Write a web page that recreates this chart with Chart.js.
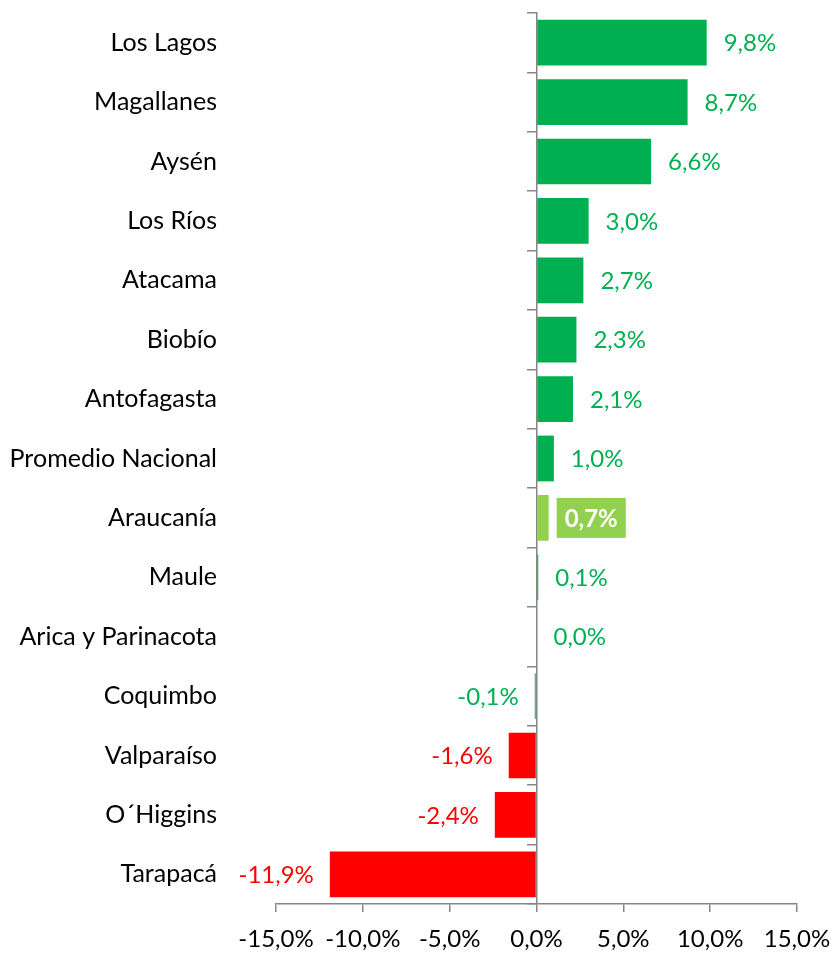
<!DOCTYPE html>
<html>
<head>
<meta charset="utf-8">
<script src="https://cdn.jsdelivr.net/npm/chart.js@4/dist/chart.umd.min.js"></script>
<style>
html,body{margin:0;padding:0;background:#fff;}
#wrap{width:834px;height:953px;position:relative;}
</style>
</head>
<body>
<div id="wrap"><canvas id="c" width="834" height="953"></canvas></div>
<script>
const categories = ["Los Lagos","Magallanes","Aysén","Los Ríos","Atacama","Biobío","Antofagasta","Promedio Nacional","Araucanía","Maule","Arica y Parinacota","Coquimbo","Valparaíso","O´Higgins","Tarapacá"];
const values = [9.8,8.7,6.6,3.0,2.7,2.3,2.1,1.0,0.7,0.1,0.0,-0.1,-1.6,-2.4,-11.9];
const xTicks = [-15,-10,-5,0,5,10,15];
const highlighted = "Araucanía";

const GREEN = "#00B050", LIGHT = "#92D050", RED = "#FF0000", AXIS = "#868686";
const FONT = "Lato, 'Liberation Sans', sans-serif";
const barColors = values.map((v,i)=> categories[i]===highlighted ? LIGHT : (v < -1 ? RED : GREEN));
const fmt = v => (v<0?"-":"") + Math.abs(v).toFixed(1).replace(".", ",") + "%";

const labelPlugin = {
  id: "vlabels",
  afterDatasetsDraw(chart){
    const ctx = chart.ctx;
    const meta = chart.getDatasetMeta(0);
    ctx.save();
    ctx.textBaseline = "middle";
    meta.data.forEach((el,i)=>{
      const v = values[i];
      const txt = fmt(v);
      const y = el.y;
      if (categories[i]===highlighted){
        ctx.font = "bold 24px " + FONT;
        const w = ctx.measureText(txt).width;
        const x0 = el.x + 8;
        ctx.fillStyle = LIGHT;
        ctx.fillRect(x0, y-20, w+16, 40);
        ctx.fillStyle = "#fff";
        ctx.textAlign = "left";
        ctx.fillText(txt, x0+8, y+1);
      } else {
        ctx.font = "24px " + FONT;
        ctx.fillStyle = barColors[i]===RED ? RED : GREEN;
        if (v < 0){ ctx.textAlign = "right"; ctx.fillText(txt, el.x - 16, y+1); }
        else { ctx.textAlign = "left"; ctx.fillText(txt, el.x + 17, y+1); }
      }
    });
    ctx.restore();
  }
};

new Chart(document.getElementById("c"), {
  type: "bar",
  data: {
    labels: categories,
    datasets: [{ data: values, backgroundColor: barColors, borderWidth: 0, barPercentage: 0.77, categoryPercentage: 1.0 }]
  },
  options: {
    indexAxis: "y",
    responsive: false,
    animation: false,
    layout: { padding: { left: 0, right: 37, top: 13, bottom: 0 } },
    plugins: { legend: { display: false }, tooltip: { enabled: false } },
    scales: {
      x: {
        min: -15, max: 15,
        afterBuildTicks(s){ s.ticks = xTicks.map(v=>({value:v})); },
        afterFit(s){ s.height = 49; s.paddingLeft = 0; s.paddingRight = 0; },
        grid: { drawOnChartArea: false, tickLength: 8, color: AXIS, lineWidth: 1.5 },
        border: { display: true, color: AXIS, width: 1.5 },
        ticks: { color: "#000", font: { family: FONT, size: 24 }, padding: 13, maxRotation: 0,
          callback: v => fmt(v) }
      },
      y: {
        position: "left",
        afterFit(s){ s.width = 276; s.paddingTop = 0; s.paddingBottom = 0; },
        grid: { display: false, drawTicks: false },
        border: { display: false },
        ticks: { color: "#000", font: { family: FONT, size: 25 }, padding: 59 }
      },
      y2: {
        type: "category",
        labels: categories,
        axis: "y",
        position: { x: 0 },
        offset: true,
        afterFit(s){ s.paddingTop = 0; s.paddingBottom = 0; },
        grid: { offset: true, drawOnChartArea: false, tickLength: 9, color: AXIS, lineWidth: 1.5 },
        border: { display: true, color: AXIS, width: 1.5 },
        ticks: { display: false }
      }
    }
  },
  plugins: [labelPlugin]
});
</script>
</body>
</html>
